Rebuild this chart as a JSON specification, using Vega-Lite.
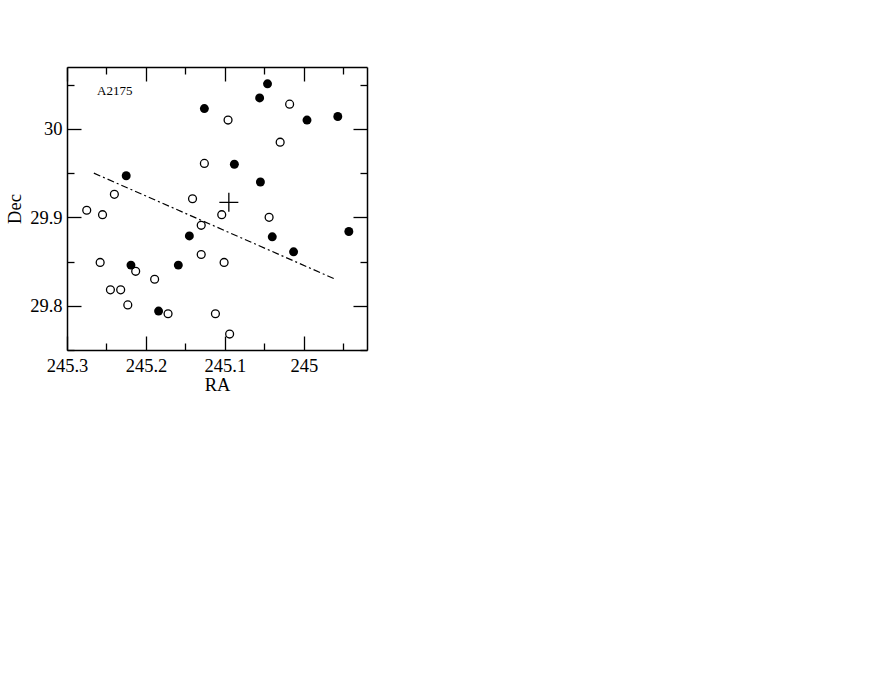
{
  "$schema": "https://vega.github.io/schema/vega-lite/v6.json",
  "autosize": "none",
  "padding": {"left": 67, "top": 67, "right": 505, "bottom": 324},
  "width": 300,
  "height": 283,
  "background": "white",
  "config": {
    "view": {"stroke": null},
    "font": "Liberation Serif",
    "axis": {
      "domainColor": "black",
      "domainWidth": 1.5,
      "tickColor": "black",
      "tickWidth": 1.3,
      "grid": false,
      "labelFont": "Liberation Serif",
      "labelFontSize": 18.5,
      "labelColor": "black",
      "titleFont": "Liberation Serif",
      "titleFontSize": 18.5,
      "titleFontWeight": "normal",
      "titleColor": "black"
    }
  },
  "datasets": {
    "galaxies": [
      {"ra": 245.126, "dec": 30.023, "type": "filled"},
      {"ra": 245.056, "dec": 30.035, "type": "filled"},
      {"ra": 245.046, "dec": 30.051, "type": "filled"},
      {"ra": 244.996, "dec": 30.010, "type": "filled"},
      {"ra": 244.957, "dec": 30.014, "type": "filled"},
      {"ra": 245.088, "dec": 29.960, "type": "filled"},
      {"ra": 245.055, "dec": 29.940, "type": "filled"},
      {"ra": 245.225, "dec": 29.947, "type": "filled"},
      {"ra": 245.145, "dec": 29.879, "type": "filled"},
      {"ra": 245.040, "dec": 29.878, "type": "filled"},
      {"ra": 245.013, "dec": 29.861, "type": "filled"},
      {"ra": 244.943, "dec": 29.884, "type": "filled"},
      {"ra": 245.219, "dec": 29.846, "type": "filled"},
      {"ra": 245.159, "dec": 29.846, "type": "filled"},
      {"ra": 245.184, "dec": 29.794, "type": "filled"},
      {"ra": 245.096, "dec": 30.010, "type": "open"},
      {"ra": 245.018, "dec": 30.028, "type": "open"},
      {"ra": 245.030, "dec": 29.985, "type": "open"},
      {"ra": 245.126, "dec": 29.961, "type": "open"},
      {"ra": 245.141, "dec": 29.921, "type": "open"},
      {"ra": 245.104, "dec": 29.903, "type": "open"},
      {"ra": 245.044, "dec": 29.900, "type": "open"},
      {"ra": 245.130, "dec": 29.891, "type": "open"},
      {"ra": 245.130, "dec": 29.858, "type": "open"},
      {"ra": 245.101, "dec": 29.849, "type": "open"},
      {"ra": 245.275, "dec": 29.908, "type": "open"},
      {"ra": 245.255, "dec": 29.903, "type": "open"},
      {"ra": 245.240, "dec": 29.926, "type": "open"},
      {"ra": 245.258, "dec": 29.849, "type": "open"},
      {"ra": 245.213, "dec": 29.839, "type": "open"},
      {"ra": 245.189, "dec": 29.830, "type": "open"},
      {"ra": 245.245, "dec": 29.818, "type": "open"},
      {"ra": 245.232, "dec": 29.818, "type": "open"},
      {"ra": 245.223, "dec": 29.801, "type": "open"},
      {"ra": 245.172, "dec": 29.791, "type": "open"},
      {"ra": 245.112, "dec": 29.791, "type": "open"},
      {"ra": 245.094, "dec": 29.768, "type": "open"}
    ],
    "axisline": [
      {"ra": 245.266, "dec": 29.950},
      {"ra": 244.960, "dec": 29.830}
    ],
    "center": [
      {"ra": 245.095, "dec": 29.917}
    ],
    "label": [
      {"ra": 245.262, "dec": 30.043, "text": "A2175"}
    ]
  },
  "encoding": {
    "x": {"field": "ra", "type": "quantitative", "scale": {"domain": [244.92, 245.3], "reverse": true, "zero": false, "nice": false}},
    "y": {"field": "dec", "type": "quantitative", "scale": {"domain": [29.75, 30.07], "zero": false, "nice": false}}
  },
  "layer": [
    {
      "data": {"name": "galaxies"},
      "transform": [{"filter": "datum.type === 'open'"}],
      "mark": {"type": "point", "shape": "circle", "filled": false, "stroke": "black", "strokeWidth": 1.3, "size": 62, "opacity": 1},
      "encoding": {
        "x": {"field": "ra", "type": "quantitative", "title": "RA",
          "axis": {
            "orient": "bottom",
            "values": [245.3, 245.25, 245.2, 245.15, 245.1, 245.05, 245.0, 244.95],
            "tickSize": {"condition": {"test": "abs(datum.value*10 - round(datum.value*10)) < 0.001", "value": -14}, "value": -7},
            "labelPadding": 20,
            "labelExpr": "abs(datum.value*10 - round(datum.value*10)) < 0.001 ? toString(round(datum.value*10)/10) : ''",
            "labelFlush": false,
            "labelOverlap": false,
            "titlePadding": -6
          }
        },
        "y": {"field": "dec", "type": "quantitative", "title": "Dec",
          "axis": {
            "orient": "left",
            "values": [29.75, 29.8, 29.85, 29.9, 29.95, 30.0, 30.05],
            "tickSize": {"condition": {"test": "abs(datum.value*10 - round(datum.value*10)) < 0.001", "value": -14}, "value": -7},
            "labelPadding": 19,
            "labelExpr": "abs(datum.value*10 - round(datum.value*10)) < 0.001 ? toString(round(datum.value*10)/10) : ''",
            "labelFlush": false,
            "labelOverlap": false,
            "titlePadding": 5
          }
        }
      }
    },
    {
      "data": {"name": "galaxies"},
      "transform": [{"filter": "datum.type === 'filled'"}],
      "mark": {"type": "point", "shape": "circle", "filled": true, "fill": "black", "strokeWidth": 0, "size": 80, "opacity": 1},
      "encoding": {
        "x": {"field": "ra", "type": "quantitative", "title": null,
          "axis": {
            "orient": "top",
            "values": [245.3, 245.25, 245.2, 245.15, 245.1, 245.05, 245.0, 244.95],
            "tickSize": {"condition": {"test": "abs(datum.value*10 - round(datum.value*10)) < 0.001", "value": -14}, "value": -7},
            "labels": false
          }
        },
        "y": {"field": "dec", "type": "quantitative", "title": null,
          "axis": {
            "orient": "right",
            "values": [29.75, 29.8, 29.85, 29.9, 29.95, 30.0, 30.05],
            "tickSize": {"condition": {"test": "abs(datum.value*10 - round(datum.value*10)) < 0.001", "value": -14}, "value": -7},
            "labels": false
          }
        }
      }
    },
    {
      "data": {"name": "axisline"},
      "mark": {"type": "line", "color": "black", "strokeWidth": 1.2, "strokeDash": [7, 3, 2, 3]},
      "encoding": {
        "x": {"field": "ra", "type": "quantitative", "axis": null},
        "y": {"field": "dec", "type": "quantitative", "axis": null}
      }
    },
    {
      "data": {"name": "center"},
      "mark": {"type": "point", "shape": "M-1,0H1M0,-1V1", "filled": false, "stroke": "black", "strokeWidth": 1.3, "size": 361, "opacity": 1},
      "encoding": {
        "x": {"field": "ra", "type": "quantitative", "axis": null},
        "y": {"field": "dec", "type": "quantitative", "axis": null}
      }
    },
    {
      "data": {"name": "label"},
      "mark": {"type": "text", "align": "left", "baseline": "middle", "font": "Liberation Serif", "fontSize": 13, "color": "black"},
      "encoding": {
        "x": {"field": "ra", "type": "quantitative", "axis": null},
        "y": {"field": "dec", "type": "quantitative", "axis": null},
        "text": {"field": "text"}
      }
    }
  ],
  "resolve": {"axis": {"x": "independent", "y": "independent"}}
}
